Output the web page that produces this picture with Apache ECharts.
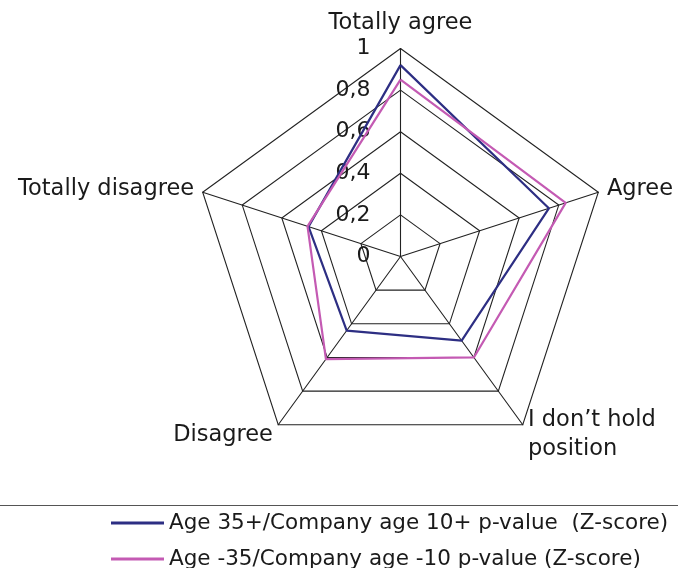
<!DOCTYPE html>
<html>
<head>
<meta charset="utf-8">
<script src="https://cdn.jsdelivr.net/npm/echarts@6/dist/echarts.min.js"></script>
<style>
html,body{margin:0;padding:0;background:#fff;}
#chart{width:678px;height:568px;}
</style>
</head>
<body>
<div id="chart"></div>
<script>
// Indicators in drawing order (counter-clockwise from top)
const indicators = ['Totally agree', 'Totally disagree', 'Disagree', 'I don\u2019t hold\nposition', 'Agree'];
const seriesNames = ['Age 35+/Company age 10+ p-value  (Z-score)', 'Age -35/Company age -10 p-value (Z-score)'];
const olderValues = [0.92, 0.465, 0.44, 0.50, 0.75];
const youngerValues = [0.85, 0.47, 0.61, 0.60, 0.835];
const tickLabels = ['0', '0,2', '0,4', '0,6', '0,8', '1'];

const lowNames = ['Disagree', 'I don\u2019t hold\nposition'];

const legendBase = {
  orient: 'vertical',
  left: 111,
  itemWidth: 53,
  itemHeight: 3,
  icon: 'rect',
  textStyle: {fontFamily: 'DejaVu Sans', fontSize: 21.5, color: '#1a1a1a', lineHeight: 24},
  padding: 0
};

const chart = echarts.init(document.getElementById('chart'), null, {renderer: 'canvas'});
const option = {
  animation: false,
  backgroundColor: '#fff',
  legend: [
    Object.assign({}, legendBase, {top: 511, data: [seriesNames[0]]}),
    Object.assign({}, legendBase, {top: 547, data: [seriesNames[1]]})
  ],
  graphic: [{
    type: 'line',
    shape: {x1: 0, y1: 505.5, x2: 678, y2: 505.5},
    style: {stroke: '#555', lineWidth: 1.2}
  }],
  radar: {
    center: [400.5, 256.5],
    radius: 208,
    startAngle: 90,
    shape: 'polygon',
    splitNumber: 5,
    nameGap: 9,
    axisName: {
      color: '#1a1a1a',
      fontFamily: 'DejaVu Sans',
      fontSize: 22.5,
      lineHeight: 29,
      formatter: function (name) {
        if (lowNames.indexOf(name) >= 0) {
          return name.split('\n').map(function (s) { return '{low|' + s + '}'; }).join('\n');
        }
        return name;
      },
      rich: {
        low: {fontFamily: 'DejaVu Sans', fontSize: 22.5, color: '#1a1a1a', lineHeight: 29, padding: [6, 0, 0, 0]}
      }
    },
    indicator: indicators.map(function (n, i) {
      const ind = {name: n, min: 0, max: 1};
      if (i === 0) {
        ind.axisLabel = {
          show: true,
          fontFamily: 'DejaVu Sans',
          fontSize: 22,
          color: '#1a1a1a',
          margin: 30,
          formatter: function (v) { return tickLabels[Math.round(v * 5)]; }
        };
      }
      return ind;
    }),
    axisLabel: {show: false},
    axisTick: {show: false},
    axisLine: {show: true, lineStyle: {color: '#222', width: 1.1}},
    splitLine: {show: true, lineStyle: {color: '#222', width: 1.1}},
    splitArea: {show: false}
  },
  series: [{
    type: 'radar',
    symbol: 'none',
    data: [
      {name: seriesNames[0], value: olderValues, lineStyle: {color: '#2D2E83', width: 2.2}, itemStyle: {color: '#2D2E83'}},
      {name: seriesNames[1], value: youngerValues, lineStyle: {color: '#C45AB3', width: 2.2}, itemStyle: {color: '#C45AB3'}}
    ]
  }]
};
chart.setOption(option);
</script>
</body>
</html>
